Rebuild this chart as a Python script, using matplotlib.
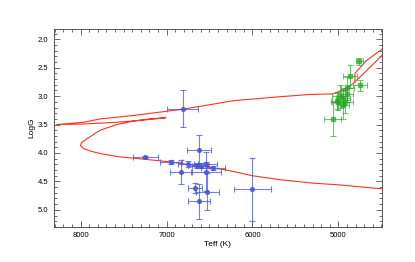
import numpy as np
import matplotlib.pyplot as plt

plt.rcParams['font.family'] = ['Liberation Sans', 'DejaVu Sans']

# isochrone track (Teff, logg), main sequence -> hook -> subgiant -> giant branch
iso_teff = [4400, 4500, 5000, 5300, 5680, 6000, 6300, 6610, 7000, 7390, 7540, 7773,
            7900, 7967, 8002, 7990, 7928, 7773, 7580, 7386, 7200, 7010,
            7192, 7580, 7967, 8280,
            7967, 7773, 7386, 6812, 6494, 6223, 5680, 5331, 5060, 4905, 4828, 4672, 4498, 4400]
iso_logg = [4.65, 4.63, 4.56, 4.53, 4.47, 4.40, 4.30, 4.23, 4.15, 4.09, 4.07, 4.01,
            3.96, 3.92, 3.87, 3.82, 3.75, 3.60, 3.50, 3.44, 3.40, 3.38,
            3.41, 3.46, 3.49, 3.50,
            3.46, 3.40, 3.34, 3.23, 3.15, 3.08, 3.01, 2.97, 2.96, 2.86, 2.78, 2.55, 2.29, 2.14]
# second giant branch
br_teff = [4808, 4808, 4672, 4498, 4400]
br_logg = [2.75, 2.60, 2.37, 2.18, 2.05]

# dwarfs (blue)
d_teff = [7250, 6950, 6620, 6750, 6640, 6545, 6455, 6835, 6540, 6525, 6670, 6620, 6000, 6810, 6600]
d_logg = [4.07, 4.16, 3.95, 4.19, 4.22, 4.19, 4.26, 4.34, 4.33, 4.68, 4.61, 4.85, 4.64, 3.22, 4.22]
d_eteff = [145, 130, 140, 120, 110, 130, 140, 130, 170, 130, 80, 125, 210, 180, 100]
d_elogg = [0.02, 0.04, 0.27, 0.05, 0.05, 0.04, 0.04, 0.21, 0.34, 0.33, 0.09, 0.31, 0.55, 0.33, 0.05]

# giants (green)
g_teff = [5067, 5000, 4985, 4945, 4919, 4951, 4895, 4866, 4750, 4758, 4905, 5021]
g_logg = [3.40, 3.10, 3.00, 3.03, 3.10, 3.16, 2.86, 2.65, 2.81, 2.39, 2.96, 3.08]
g_eteff = [95, 80, 90, 80, 90, 70, 80, 80, 80, 40, 70, 70]
g_elogg = [0.30, 0.15, 0.20, 0.15, 0.20, 0.25, 0.20, 0.20, 0.10, 0.06, 0.15, 0.15]

fig = plt.figure(figsize=(4.15, 2.62), dpi=100)
ax = fig.add_axes([0.130, 0.134, 0.790, 0.755])

ax.plot(iso_teff, iso_logg, '-', color='#ff3322', lw=0.8)
ax.plot(br_teff, br_logg, '-', color='#ff3322', lw=0.8)

ax.errorbar(d_teff, d_logg, xerr=d_eteff, yerr=d_elogg, fmt='o', color='#4455dd',
            ms=2.8, elinewidth=0.8, capsize=2.5, capthick=0.8, alpha=0.75)
ax.errorbar(g_teff, g_logg, xerr=g_eteff, yerr=g_elogg, fmt='s', color='#22aa22',
            ms=2.8, elinewidth=0.8, capsize=2.5, capthick=0.8, alpha=0.65)

ax.set_xlim(8310, 4495)
ax.set_ylim(5.30, 1.82)
ax.set_xticks([8000, 7000, 6000, 5000])
ax.set_xticks(np.arange(4500, 8301, 100), minor=True)
ax.set_yticks([2.0, 2.5, 3.0, 3.5, 4.0, 4.5, 5.0])
ax.set_yticks(np.arange(1.9, 5.31, 0.1), minor=True)
ax.yaxis.set_major_formatter(plt.FormatStrFormatter('%.1f'))
ax.tick_params(which='both', direction='in', top=True, right=True, labelsize=5.5,
               color='#555555', width=0.6, pad=4)
ax.tick_params(which='major', length=4)
ax.tick_params(which='minor', length=2)
for s in ax.spines.values():
    s.set_color('#555555')
    s.set_linewidth(0.7)

ax.set_xlabel('Teff (K)', fontsize=6, labelpad=1)
ax.set_ylabel('LogG', fontsize=6, labelpad=2)

fig.savefig('out.png', dpi=100)
